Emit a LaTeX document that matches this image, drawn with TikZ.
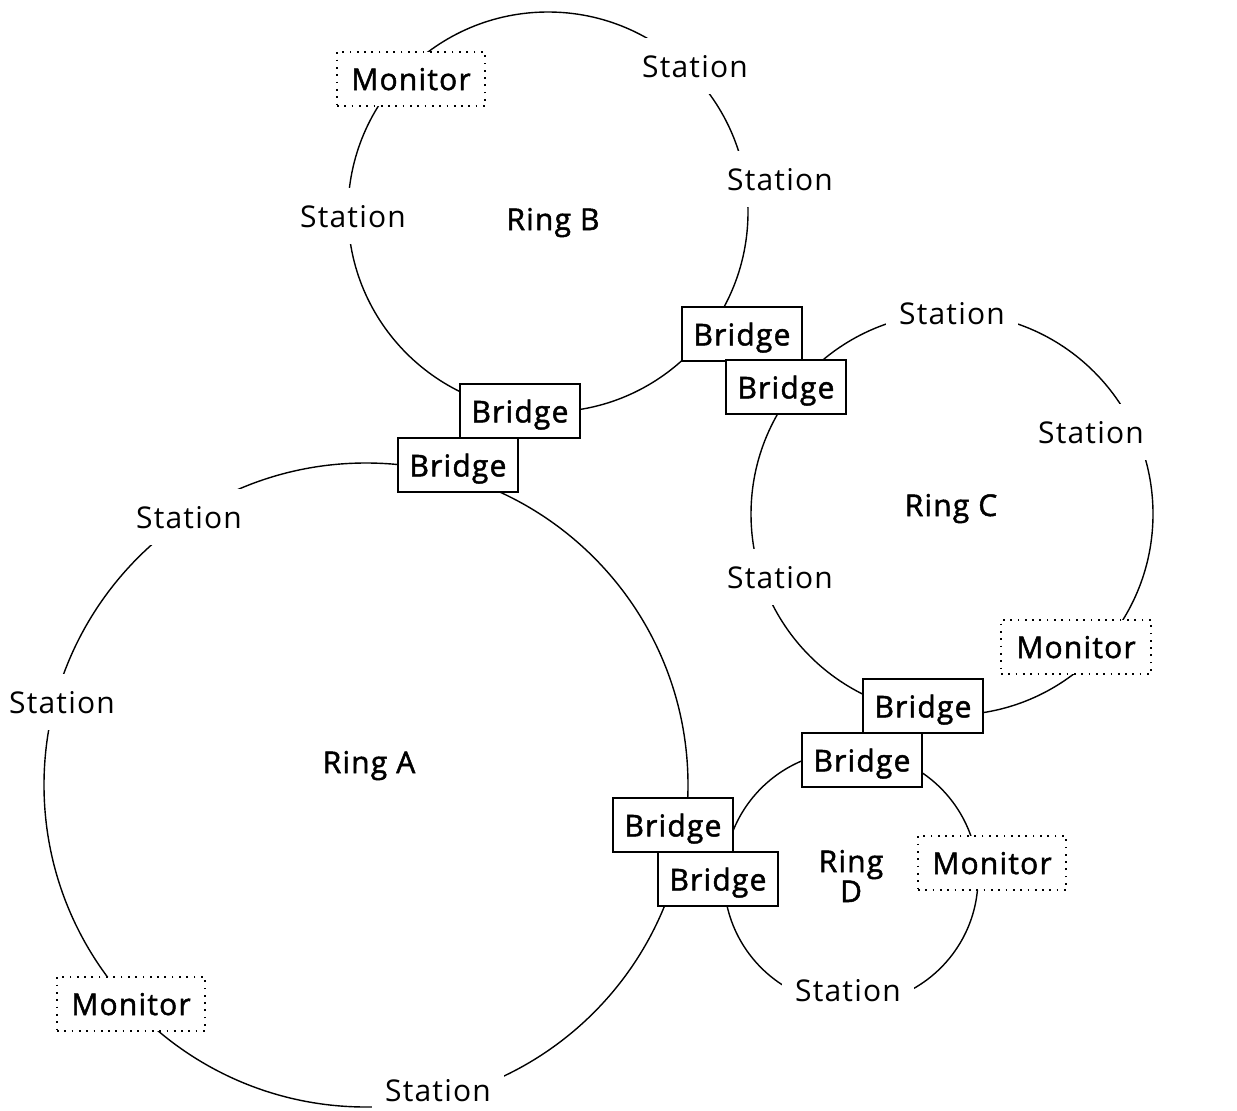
\documentclass[tikz,border=0pt]{standalone}
\usepackage{fontspec}
\setmainfont{Open Sans}[LetterSpace=4]
\newfontfamily\medfont{Open Sans}[LetterSpace=4, FakeBold=1.6]
\begin{document}
\begin{tikzpicture}[x=1pt,y=-1pt,
  ring/.style={line width=1.4pt},
  station/.style={fill=white, font=\fontsize{30}{32}\selectfont, inner xsep=13pt, inner ysep=0pt, minimum height=56pt, text depth=0pt},
  bridge/.style={draw, line width=1.5pt, fill=white, minimum width=120pt, minimum height=54pt, inner sep=0pt, text depth=0pt, font=\medfont\fontsize{30}{32}\selectfont},
  monitor/.style={draw, line width=1.7pt, dash pattern=on 1.7pt off 5.6pt, fill=white, minimum width=148pt, minimum height=54pt, inner sep=0pt, text depth=0pt, font=\medfont\fontsize{30}{32}\selectfont},
  ringlabel/.style={align=center, text depth=0pt, font=\medfont\fontsize{30}{32}\selectfont}]
\useasboundingbox (0,0) rectangle (1237,1111);
% rings
\draw[ring] (366,785) circle[radius=322pt];
\draw[ring] (548,212) circle[radius=200pt];
\draw[ring] (952,514) circle[radius=201pt];
\draw[ring] (851,878) circle[radius=127pt];
% ring labels
\node[ringlabel] (ringA) at (369,762) {Ring A};
\node[ringlabel] (ringB) at (553,219) {Ring B};
\node[ringlabel] (ringC) at (951,505) {Ring C};
\node[ringlabel, align=center] (ringD) at (851,876) {Ring\\[-2pt]D};
% stations ring A
\node[station] (sA1) at (189,517) {Station};
\node[station] (sA2) at (62,702) {Station};
\node[station] (sA3) at (438,1090) {Station};
% stations ring B
\node[station] (sB1) at (695,66) {Station};
\node[station] (sB2) at (780,179) {Station};
\node[station] (sB3) at (353,216) {Station};
% stations ring C
\node[station] (sC1) at (952,313) {Station};
\node[station] (sC2) at (1091,432) {Station};
\node[station] (sC3) at (780,577) {Station};
% station ring D
\node[station] (sD1) at (848,990) {Station};
% monitors
\node[monitor] (mB) at (411,79) {Monitor};
\node[monitor, minimum width=150pt] (mC) at (1076,647) {Monitor};
\node[monitor] (mD) at (992,863) {Monitor};
\node[monitor] (mA) at (131,1004) {Monitor};
% bridges
\node[bridge] (bA1) at (458,465) {Bridge};
\node[bridge] (bB1) at (520,411) {Bridge};
\node[bridge] (bB2) at (742,334) {Bridge};
\node[bridge] (bC1) at (786,387) {Bridge};
\node[bridge] (bC2) at (923,706) {Bridge};
\node[bridge] (bD1) at (862,760) {Bridge};
\node[bridge] (bA2) at (673,825) {Bridge};
\node[bridge] (bD2) at (718,879) {Bridge};
\end{tikzpicture}
\end{document}
